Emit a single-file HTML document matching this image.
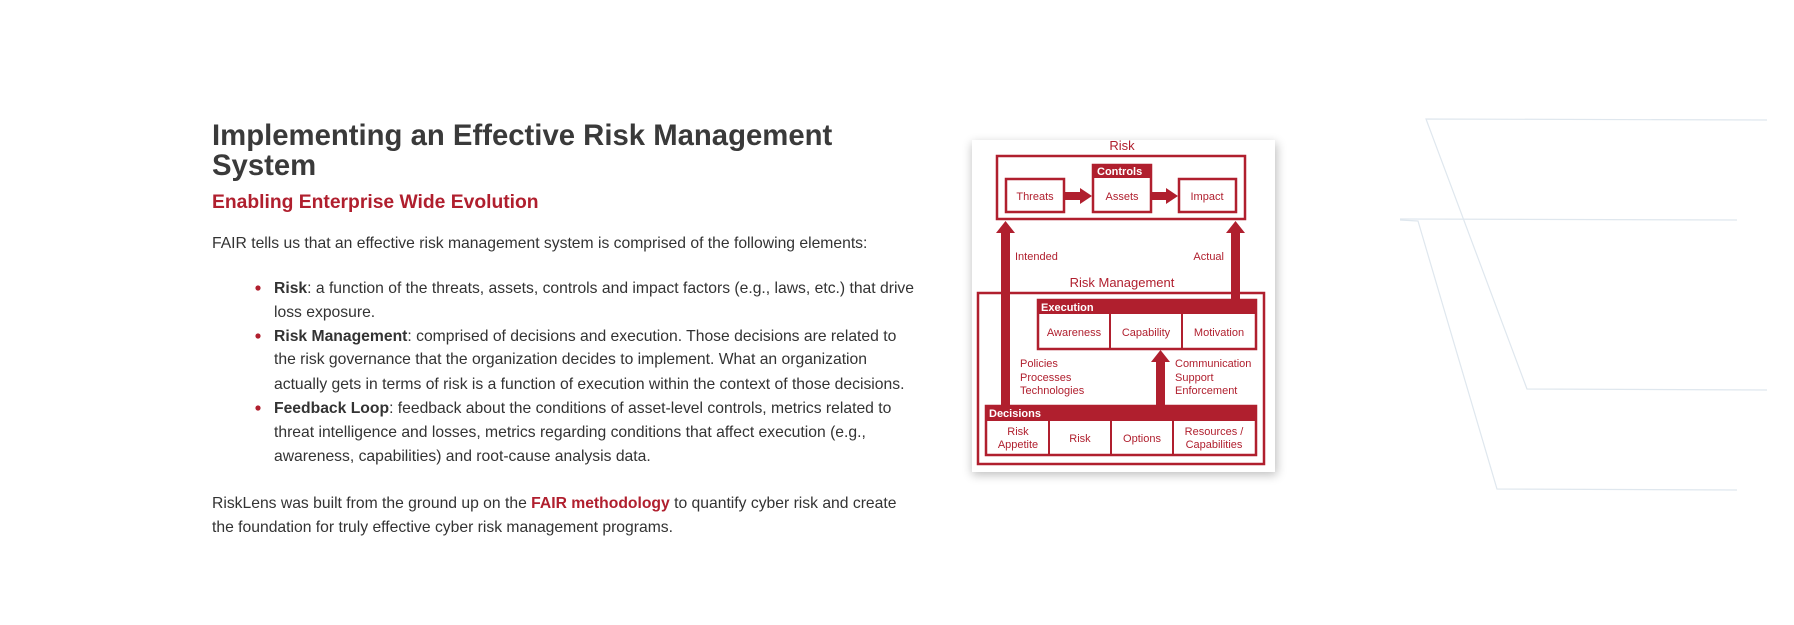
<!DOCTYPE html>
<html><head><meta charset="utf-8"><style>
html,body{margin:0;padding:0;background:#fff;width:1794px;height:625px;overflow:hidden}
svg{display:block}
.t{font-family:"Liberation Sans",sans-serif}
</style></head><body>
<svg width="1794" height="625" viewBox="0 0 1794 625" xmlns="http://www.w3.org/2000/svg">
<defs>
<filter id="sh" x="-10%" y="-10%" width="120%" height="120%"><feGaussianBlur stdDeviation="5"/></filter>
</defs>
<g stroke="#dfe7ee" stroke-width="1.2" fill="none">
<polyline points="1767,120 1426,119 1527,389 1767,390"/>
<polyline points="1737,220 1400,219"/>
<polyline points="1400,220 1418,221 1497,489 1737,490"/>
</g>
<g class="t">
<text x="212" y="145" font-size="29.3" font-weight="bold" fill="#3a3a3a">Implementing an Effective Risk Management</text>
<text x="212" y="175" font-size="29.3" font-weight="bold" fill="#3a3a3a">System</text>
<text x="212" y="208" font-size="19.3" font-weight="bold" fill="#b01f2e">Enabling Enterprise Wide Evolution</text>
<g font-size="15.7" fill="#333">
<text x="212" y="248">FAIR tells us that an effective risk management system is comprised of the following elements:</text>
<circle cx="258" cy="288" r="2.6" fill="#b01f2e"/>
<circle cx="258" cy="336" r="2.6" fill="#b01f2e"/>
<circle cx="258" cy="408" r="2.6" fill="#b01f2e"/>
<text x="274" y="293"><tspan font-weight="bold">Risk</tspan>: a function of the threats, assets, controls and impact factors (e.g., laws, etc.) that drive</text>
<text x="274" y="317">loss exposure.</text>
<text x="274" y="341"><tspan font-weight="bold">Risk Management</tspan>: comprised of decisions and execution. Those decisions are related to</text>
<text x="274" y="364">the risk governance that the organization decides to implement. What an organization</text>
<text x="274" y="389">actually gets in terms of risk is a function of execution within the context of those decisions.</text>
<text x="274" y="413"><tspan font-weight="bold">Feedback Loop</tspan>: feedback about the conditions of asset-level controls, metrics related to</text>
<text x="274" y="437">threat intelligence and losses, metrics regarding conditions that affect execution (e.g.,</text>
<text x="274" y="461">awareness, capabilities) and root-cause analysis data.</text>
<text x="212" y="508">RiskLens was built from the ground up on the <tspan font-weight="bold" fill="#b01f2e">FAIR methodology</tspan> to quantify cyber risk and create</text>
<text x="212" y="532">the foundation for truly effective cyber risk management programs.</text>
</g>
</g>
<rect x="972" y="143" width="305" height="332" fill="#000" opacity="0.25" filter="url(#sh)"/>
<rect x="972" y="140" width="303" height="332" fill="#fff"/>
<g class="t" fill="#b01f2e" font-size="11">
<text x="1122" y="150" font-size="13" text-anchor="middle">Risk</text>
<g fill="none" stroke="#b01f2e" stroke-width="2.5">
<rect x="997" y="156" width="248" height="63"/>
<rect x="1006" y="179" width="58" height="33"/>
<rect x="1093" y="165" width="58" height="47"/>
<rect x="1179" y="179" width="57" height="33"/>
<rect x="978" y="293" width="286" height="171"/>
<rect x="1038" y="300" width="218" height="49"/>
<rect x="986" y="406" width="270" height="49"/>
</g>
<rect x="1093" y="165" width="58" height="13"/>
<text x="1097" y="175" fill="#fff" font-weight="bold">Controls</text>
<text x="1035" y="200" text-anchor="middle">Threats</text>
<text x="1122" y="200" text-anchor="middle">Assets</text>
<text x="1207" y="200" text-anchor="middle">Impact</text>
<polygon points="1065,192 1080,192 1080,188 1092,196 1080,204 1080,200 1065,200"/>
<polygon points="1152,192 1166,192 1166,188 1178,196 1166,204 1166,200 1152,200"/>
<polygon points="1001,406 1001,233 996,233 1005.5,221 1015,233 1010,233 1010,406"/>
<polygon points="1231,300 1231,233 1226,233 1235.5,221 1245,233 1240,233 1240,300"/>
<polygon points="1156,406 1156,362 1151,362 1160.5,350 1170,362 1165,362 1165,406"/>
<text x="1015" y="260">Intended</text>
<text x="1224" y="260" text-anchor="end">Actual</text>
<text x="1122" y="287" font-size="13" text-anchor="middle">Risk Management</text>
<rect x="1038" y="300" width="218" height="14"/>
<text x="1041" y="311" fill="#fff" font-weight="bold">Execution</text>
<line x1="1110" y1="314" x2="1110" y2="349" stroke="#b01f2e" stroke-width="2"/>
<line x1="1182" y1="314" x2="1182" y2="349" stroke="#b01f2e" stroke-width="2"/>
<text x="1074" y="336" text-anchor="middle">Awareness</text>
<text x="1146" y="336" text-anchor="middle">Capability</text>
<text x="1219" y="336" text-anchor="middle">Motivation</text>
<text x="1020" y="367">Policies</text>
<text x="1020" y="381">Processes</text>
<text x="1020" y="394">Technologies</text>
<text x="1175" y="367">Communication</text>
<text x="1175" y="381">Support</text>
<text x="1175" y="394">Enforcement</text>
<rect x="986" y="406" width="270" height="15"/>
<text x="989" y="417" fill="#fff" font-weight="bold">Decisions</text>
<line x1="1049" y1="421" x2="1049" y2="455" stroke="#b01f2e" stroke-width="2"/>
<line x1="1111" y1="421" x2="1111" y2="455" stroke="#b01f2e" stroke-width="2"/>
<line x1="1173" y1="421" x2="1173" y2="455" stroke="#b01f2e" stroke-width="2"/>
<text x="1018" y="435" text-anchor="middle">Risk</text>
<text x="1018" y="448" text-anchor="middle">Appetite</text>
<text x="1080" y="442" text-anchor="middle">Risk</text>
<text x="1142" y="442" text-anchor="middle">Options</text>
<text x="1214" y="435" text-anchor="middle">Resources /</text>
<text x="1214" y="448" text-anchor="middle">Capabilities</text>
</g>
</svg>
</body></html>
